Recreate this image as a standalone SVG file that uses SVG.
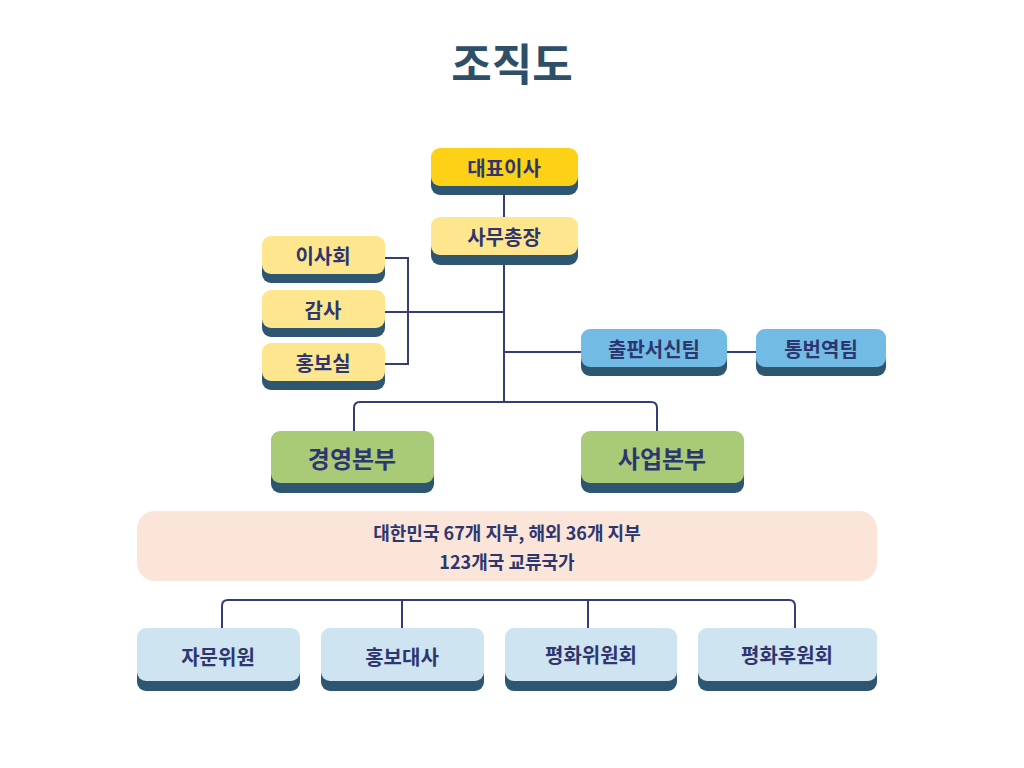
<svg xmlns="http://www.w3.org/2000/svg" width="1024" height="768" viewBox="0 0 1024 768">
<style>
text{font-family:"Noto Sans CJK KR","Noto Sans",sans-serif;font-weight:700;fill:#2E3670;text-anchor:middle;dominant-baseline:central}
.sh{fill:#2F5670}
.ln{stroke:#353C78;stroke-width:2;fill:none}
.y1{fill:#FDD116}.y2{fill:#FDE68E}.b{fill:#72BBE5}.g{fill:#A9CB78}.l{fill:#CFE4F1}
.s{font-size:20px}.m{font-size:24px}
</style>
<rect width="1024" height="768" fill="#fff"/>
<text x="512" y="62" style="font-size:44px;fill:#2F4F68">조직도</text>
<g id="connectors">
<path class="ln" d="M504 186V402M385 258H408V364H385M385 312H504M504 352H581M727 352H756"/>
<path class="ln" d="M354 431V408Q354 402 360 402H651Q657 402 657 408V431"/>
<path class="ln" d="M222 628V606Q222 600 228 600H789Q795 600 795 606V628M402 600V628M588 600V628"/>
</g>
<g id="n1"><rect class="sh" x="431" y="157" width="147" height="38" rx="9"/><rect class="y1" x="431" y="148" width="147" height="38" rx="9"/><text class="s" x="504" y="167">대표이사</text></g>
<g id="n2"><rect class="sh" x="431" y="227" width="147" height="38" rx="9"/><rect class="y2" x="431" y="217" width="147" height="38" rx="9"/><text class="s" x="504" y="236">사무총장</text></g>
<g id="n3"><rect class="sh" x="262" y="245" width="123" height="38" rx="9"/><rect class="y2" x="262" y="236" width="123" height="38" rx="9"/><text class="s" x="323" y="255">이사회</text></g>
<g id="n4"><rect class="sh" x="262" y="299" width="123" height="38" rx="9"/><rect class="y2" x="262" y="290" width="123" height="38" rx="9"/><text class="s" x="323" y="309">감사</text></g>
<g id="n5"><rect class="sh" x="262" y="352" width="123" height="38" rx="9"/><rect class="y2" x="262" y="343" width="123" height="38" rx="9"/><text class="s" x="323" y="362">홍보실</text></g>
<g id="n6"><rect class="sh" x="581" y="338" width="146" height="38" rx="9"/><rect class="b" x="581" y="329" width="146" height="38" rx="9"/><text class="s" x="654" y="348">출판서신팀</text></g>
<g id="n7"><rect class="sh" x="756" y="338" width="130" height="38" rx="9"/><rect class="b" x="756" y="329" width="130" height="38" rx="9"/><text class="s" x="821" y="348">통번역팀</text></g>
<g id="n8"><rect class="sh" x="271" y="440" width="163" height="53" rx="9"/><rect class="g" x="271" y="431" width="163" height="52" rx="9"/><text class="m" x="352" y="457">경영본부</text></g>
<g id="n9"><rect class="sh" x="581" y="440" width="163" height="53" rx="9"/><rect class="g" x="581" y="431" width="163" height="52" rx="9"/><text class="m" x="662" y="457">사업본부</text></g>
<g id="n10"><rect x="137" y="511" width="740" height="70" rx="18" fill="#FAE5D8"/><text class="s" x="507" y="532" style="font-size:18px">대한민국 67개 지부, 해외 36개 지부</text><text class="s" x="507" y="561" style="font-size:18px">123개국 교류국가</text></g>
<g id="n11"><rect class="sh" x="137" y="638" width="163" height="53" rx="9"/><rect class="l" x="137" y="628" width="163" height="53" rx="9"/><text class="s" x="218" y="656">자문위원</text></g>
<g id="n12"><rect class="sh" x="321" y="638" width="163" height="53" rx="9"/><rect class="l" x="321" y="628" width="163" height="53" rx="9"/><text class="s" x="402" y="656">홍보대사</text></g>
<g id="n13"><rect class="sh" x="505" y="638" width="172" height="53" rx="9"/><rect class="l" x="505" y="628" width="172" height="53" rx="9"/><text class="s" x="591" y="654">평화위원회</text></g>
<g id="n14"><rect class="sh" x="698" y="638" width="179" height="53" rx="9"/><rect class="l" x="698" y="628" width="179" height="53" rx="9"/><text class="s" x="787" y="654">평화후원회</text></g>
</svg>
